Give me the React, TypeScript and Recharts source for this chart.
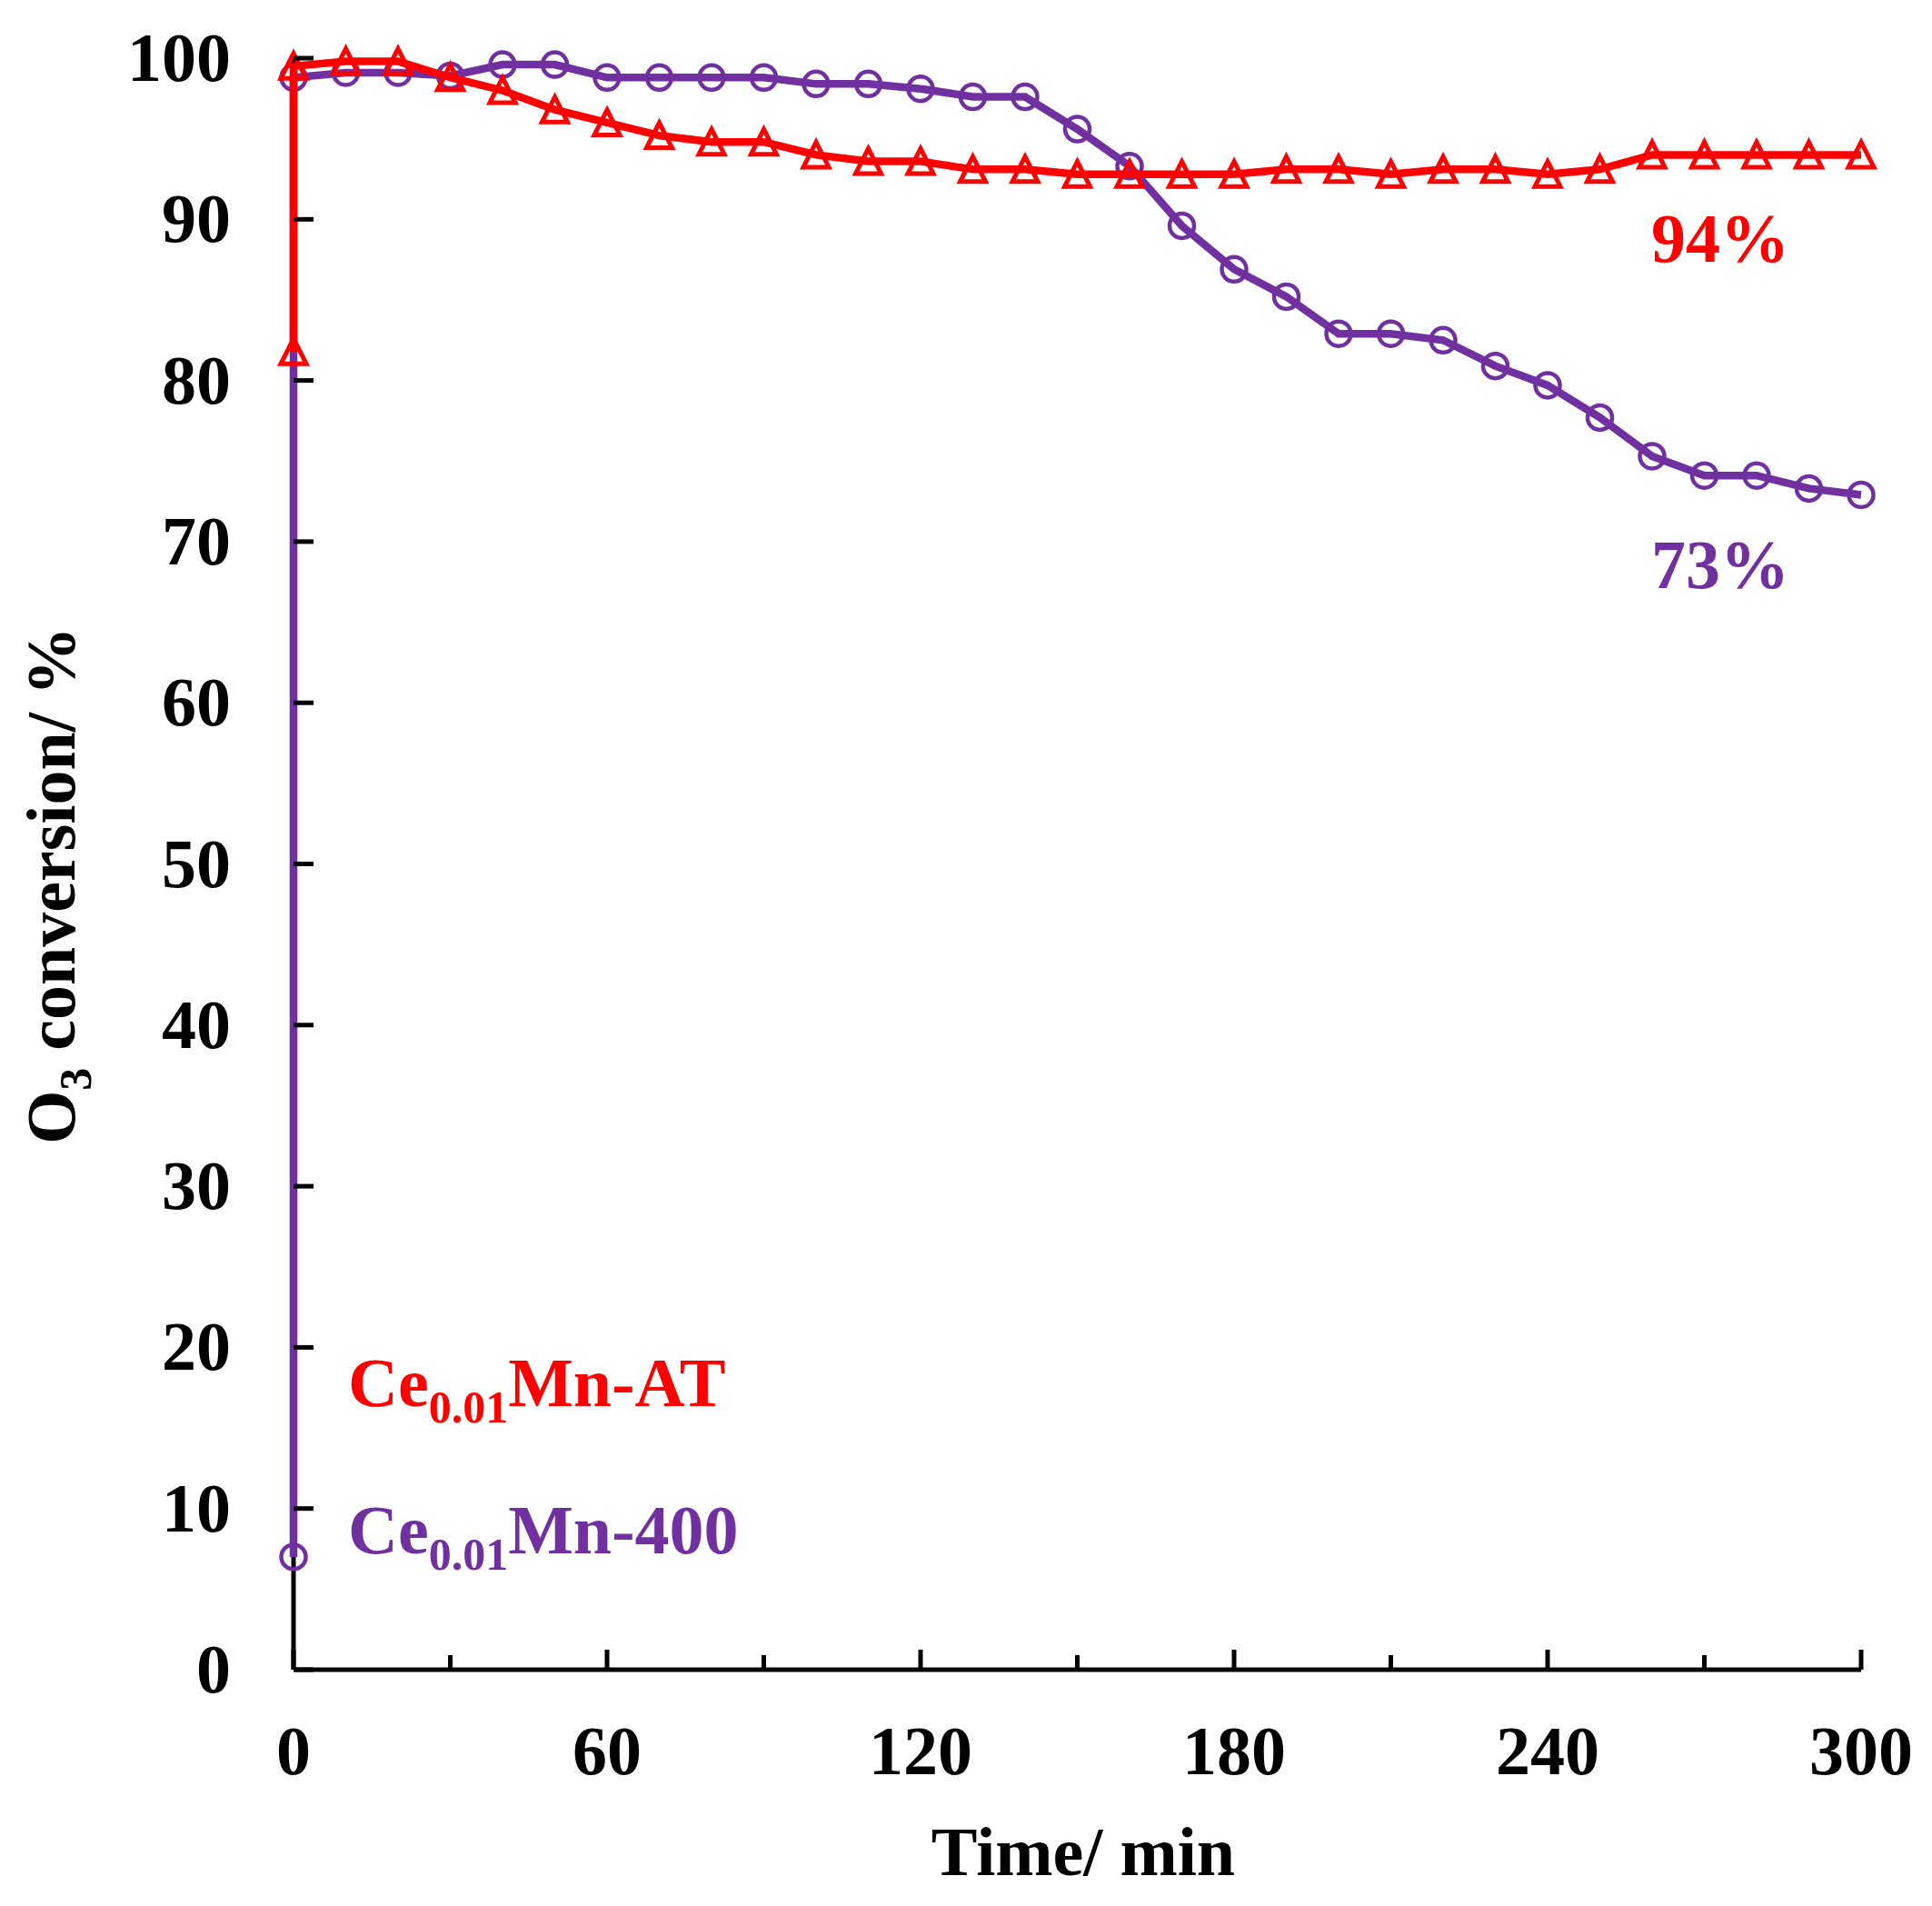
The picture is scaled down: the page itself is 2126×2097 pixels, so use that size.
import { Customized, Line, LineChart, XAxis, YAxis } from "recharts";

// time axis (min); t = 0 appears twice because both runs jump up at the start
const times = [0, 0, 10, 20, 30, 40, 50, 60, 70, 80, 90, 100, 110, 120, 130, 140, 150, 160, 170, 180, 190, 200, 210, 220, 230, 240, 250, 260, 270, 280, 290, 300];

// O3 conversion, %
const atValues = [81.8, 99.5, 99.8, 99.8, 98.8, 98.0, 96.8, 96.0, 95.2, 94.8, 94.8, 94.0, 93.6, 93.6, 93.1, 93.1, 92.8, 92.8, 92.8, 92.8, 93.1, 93.1, 92.8, 93.1, 93.1, 92.8, 93.1, 94.0, 94.0, 94.0, 94.0, 94.0];
const mn400Values = [7.0, 98.8, 99.1, 99.1, 98.9, 99.6, 99.6, 98.8, 98.8, 98.8, 98.8, 98.4, 98.4, 98.1, 97.6, 97.6, 95.6, 93.3, 89.6, 86.9, 85.2, 82.9, 82.9, 82.5, 80.9, 79.7, 77.7, 75.3, 74.1, 74.1, 73.3, 72.9];

const xTicks = [0, 30, 60, 90, 120, 150, 180, 210, 240, 270, 300];
const yTicks = [0, 10, 20, 30, 40, 50, 60, 70, 80, 90, 100];

const RED = "#FF0000";
const PURPLE = "#7030A0";
const FONT = "'Liberation Serif', 'Times New Roman', serif";
const AXIS = { stroke: "#000", strokeWidth: 5 };

const atData = times.map((t, i) => ({ t, v: atValues[i] }));
const mn400Data = times.map((t, i) => ({ t, v: mn400Values[i] }));

function TriangleDot({ cx, cy }: any) {
  if (cx == null || cy == null) return null;
  return (
    <path
      d={`M${cx},${cy - 14} L${cx + 14},${cy + 13.5} L${cx - 14},${cy + 13.5} Z`}
      fill="none"
      stroke={RED}
      strokeWidth={5}
    />
  );
}

function CircleDot({ cx, cy }: any) {
  if (cx == null || cy == null) return null;
  return <circle cx={cx} cy={cy} r={13.5} fill="none" stroke={PURPLE} strokeWidth={4.5} />;
}

// ticks point into the plot; only every 60 min is labelled
function XTick({ x, y, payload }: any) {
  const major = payload.value % 60 === 0;
  return (
    <g>
      <line x1={x} x2={x} y1={y} y2={y - (major ? 22 : 16)} stroke="#000" strokeWidth={5} />
      {major && (
        <text x={x} y={y + 115} textAnchor="middle" fontFamily={FONT} fontWeight="bold" fontSize={76} fill="#000">
          {payload.value}
        </text>
      )}
    </g>
  );
}

function YTick({ x, y, payload }: any) {
  return (
    <g>
      <line x1={x} x2={x + 22} y1={y} y2={y} stroke="#000" strokeWidth={5} />
      <text x={x - 69} y={y + 25} textAnchor="end" fontFamily={FONT} fontWeight="bold" fontSize={76} fill="#000">
        {payload.value}
      </text>
    </g>
  );
}

function Annotations() {
  const common = { fontFamily: FONT, fontWeight: "bold" as const, fontSize: 76 };
  return (
    <g>
      <text x={1817} y={288} fill={RED} {...common}>94%</text>
      <text x={1817} y={647} fill={PURPLE} {...common}>73%</text>
      <text x={383} y={1547} fill={RED} {...common}>
        Ce<tspan fontSize={50} dy={18}>0.01</tspan>
        <tspan dy={-18}>Mn-AT</tspan>
      </text>
      <text x={383} y={1709} fill={PURPLE} {...common}>
        Ce<tspan fontSize={50} dy={18}>0.01</tspan>
        <tspan dy={-18}>Mn-400</tspan>
      </text>
      <text x={1192} y={2063} textAnchor="middle" fill="#000" {...common}>Time/ min</text>
      <text transform="translate(82, 974) rotate(-90)" textAnchor="middle" fill="#000" {...common}>
        O<tspan fontSize={50} dy={18}>3</tspan>
        <tspan dy={-18}> conversion/ %</tspan>
      </text>
    </g>
  );
}

export default function App() {
  return (
    <div style={{ position: "absolute", left: 0, top: 0, width: 2126, height: 2097, background: "#fff" }}>
      <LineChart width={2126} height={2097} margin={{ top: 64, right: 78, bottom: 0, left: 0 }}>
        <XAxis
          dataKey="t"
          type="number"
          domain={[0, 300]}
          ticks={xTicks}
          interval={0}
          height={260}
          tickSize={0}
          tickMargin={0}
          tickLine={false}
          tick={<XTick />}
          axisLine={AXIS}
        />
        <XAxis xAxisId="top" orientation="top" type="number" domain={[0, 300]} height={0} tick={false} tickLine={false} axisLine={AXIS} />
        <YAxis
          type="number"
          domain={[0, 100]}
          ticks={yTicks}
          interval={0}
          width={323}
          tickSize={0}
          tickMargin={0}
          tickLine={false}
          tick={<YTick />}
          axisLine={AXIS}
        />
        <YAxis yAxisId="right" orientation="right" type="number" domain={[0, 100]} width={0} tick={false} tickLine={false} axisLine={AXIS} />
        <Line
          data={mn400Data}
          dataKey="v"
          type="linear"
          stroke={PURPLE}
          strokeWidth={8.5}
          dot={<CircleDot />}
          activeDot={false}
          isAnimationActive={false}
          zIndex={600}
        />
        <Line
          data={atData}
          dataKey="v"
          type="linear"
          stroke={RED}
          strokeWidth={8.5}
          dot={<TriangleDot />}
          activeDot={false}
          isAnimationActive={false}
          zIndex={610}
        />
        <Customized component={<Annotations />} />
      </LineChart>
    </div>
  );
}
